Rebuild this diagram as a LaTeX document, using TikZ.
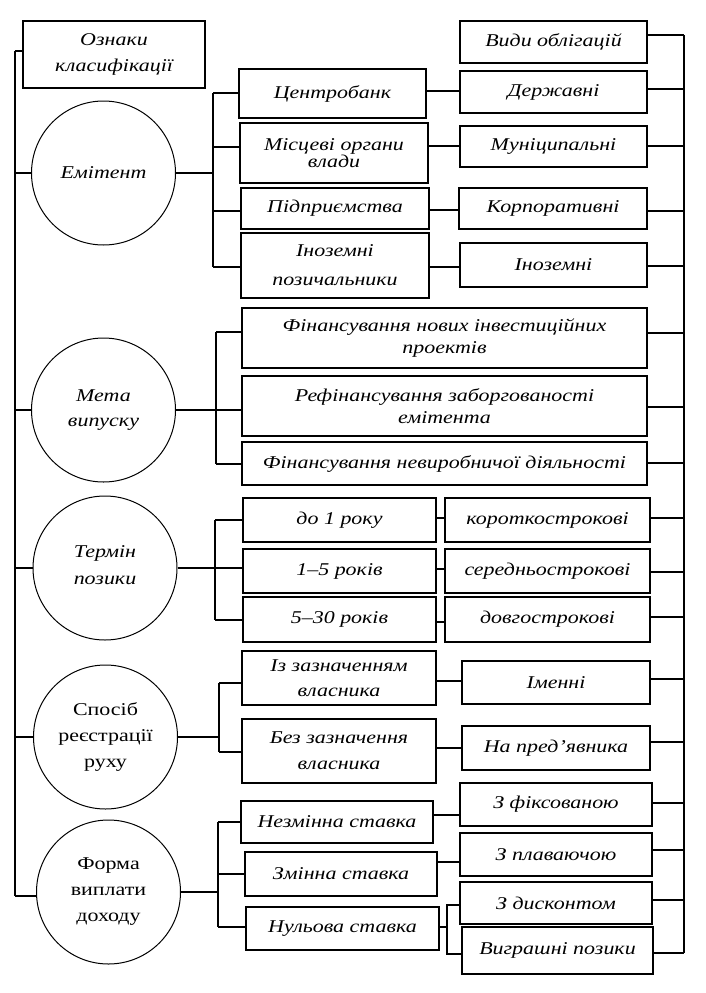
\documentclass[tikz,border=0pt]{standalone}
\usepackage{fontspec}
\setmainfont{Liberation Serif}[FakeStretch=1.22]
\newcommand\fsz{\fontsize{18}{26}\selectfont}
\newcommand\bx[6]{\node[bxs, minimum width={(#4)-(#2)}, minimum height={(#5)-(#3)}] (#1) at ({((#2)+(#4))/2},{-((#3)+(#5))/2}) {#6};}
\begin{document}
\begin{tikzpicture}[x=1pt,y=1pt,
  bxs/.style={draw, line width=1.3pt, inner sep=0pt, align=center, font=\fsz\itshape},
  crc/.style={draw, circle, line width=1pt, inner sep=0pt, minimum size=144pt, align=center, font=\fsz},
  ln/.style={line width=1.1pt}]
\useasboundingbox (0,0) rectangle (705,-993);
% headers
\bx{oz}{23}{21}{205}{88}{Ознаки\\класифікації}
\bx{vo}{460}{21}{647}{63}{Види облігацій}
% circles
\node[crc] (em) at (103.5,-173) {\itshape Емітент};
\node[crc] (mt) at (103.5,-410) {\itshape Мета\\[-1pt]\itshape випуску};
\node[crc] (tp) at (105,-568) {\raisebox{6pt}{\itshape Термін}\\[1pt]\raisebox{6pt}{\itshape позики}};
\node[crc] (sp) at (105.5,-737) {Спосіб\\реєстрації\\руху};
\node[crc] (fm) at (108.5,-892) {Форма\\виплати\\доходу};
% Emitent group
\bx{cb}{239}{69}{426}{118}{Центробанк}
\bx{mo}{240}{123}{428}{183}{Місцеві органи\\[-9pt]влади}
\bx{pd}{241}{188}{429}{229}{Підприємства}
\bx{iz}{241}{233}{429}{298}{Іноземні\\[3pt]позичальники}
\bx{dr}{460}{71}{647}{113}{Державні}
\bx{mu}{460}{126}{647}{167}{Муніципальні}
\bx{kp}{459}{188}{647}{229}{Корпоративні}
\bx{in}{460}{243}{647}{287}{Іноземні}
% Meta group
\bx{fa}{242}{308}{647}{368}{Фінансування нових інвестиційних\\[-4pt]проектів}
\bx{fb}{242}{376}{647}{436}{Рефінансування заборгованості\\[-4pt]емітента}
\bx{fc}{242}{442}{647}{485}{Фінансування невиробничої діяльності}
% Termin group
\bx{ta}{243}{498}{436}{542}{до 1 року}
\bx{tb}{243}{549}{436}{593}{1–5 років}
\bx{tc}{243}{597}{436}{642}{5–30 років}
\bx{ca}{445}{498}{650}{542}{короткострокові}
\bx{cc}{445}{549}{650}{593}{середньострокові}
\bx{cd}{445}{597}{650}{642}{довгострокові}
% Sposib group
\bx{sa}{242}{651}{436}{705}{Із зазначенням\\[-1pt]власника}
\bx{sb}{242}{719}{436}{783}{Без зазначення\\власника}
\bx{ra}{462}{661}{650}{704}{Іменні}
\bx{rb}{462}{726}{650}{770}{На пред’явника}
% Forma group
\bx{na}{241}{801}{433}{843}{Незмінна ставка}
\bx{nb}{245}{852}{437}{896}{Змінна ставка}
\bx{nc}{246}{907}{439}{950}{Нульова ставка}
\bx{za}{460}{783}{652}{826}{З фіксованою}
\bx{zb}{460}{833}{652}{876}{З плаваючою}
\bx{zc}{460}{882}{652}{924}{З дисконтом}
\bx{zd}{462}{927}{653}{974}{Виграшні позики}
% left bus
\coordinate (lbt) at (15,-51);
\coordinate (lbb) at (15,-896);
\draw[ln] (lbt) -- (lbb);
\draw[ln] (lbt) -- (oz.west |- lbt);
\draw[ln] (lbt |- em) -- (em.west);
\draw[ln] (lbt |- mt) -- (mt.west);
\draw[ln] (lbt |- tp) -- (tp.west);
\draw[ln] (lbt |- sp) -- (sp.west);
\draw[ln] (lbb) -- (fm.west |- lbb);
% right bus
\coordinate (rbt) at (684,-35);
\coordinate (rbb) at (684,-953);
\draw[ln] (rbt) -- (rbb);
\draw[ln] (vo.east |- rbt) -- (rbt);
\draw[ln] (dr.east |- 0,-89) -- (rbt |- 0,-89);
\draw[ln] (mu.east |- 0,-146) -- (rbt |- 0,-146);
\draw[ln] (kp.east |- 0,-211) -- (rbt |- 0,-211);
\draw[ln] (in.east |- 0,-266) -- (rbt |- 0,-266);
\draw[ln] (fa.east |- 0,-333) -- (rbt |- 0,-333);
\draw[ln] (fb.east |- 0,-407) -- (rbt |- 0,-407);
\draw[ln] (fc.east |- 0,-463) -- (rbt |- 0,-463);
\draw[ln] (ca.east |- 0,-518) -- (rbt |- 0,-518);
\draw[ln] (cc.east |- 0,-572) -- (rbt |- 0,-572);
\draw[ln] (cd.east |- 0,-617) -- (rbt |- 0,-617);
\draw[ln] (ra.east |- 0,-679) -- (rbt |- 0,-679);
\draw[ln] (rb.east |- 0,-742) -- (rbt |- 0,-742);
\draw[ln] (za.east |- 0,-803) -- (rbt |- 0,-803);
\draw[ln] (zb.east |- 0,-850) -- (rbt |- 0,-850);
\draw[ln] (zc.east |- 0,-900) -- (rbt |- 0,-900);
\draw[ln] (zd.east |- rbb) -- (rbb);
% Emitent bus
\coordinate (eat) at (213,-93);
\coordinate (eab) at (213,-267);
\draw[ln] (eat) -- (eab);
\draw[ln] (em.east) -- (eat |- em);
\draw[ln] (eat) -- (cb.west |- eat);
\draw[ln] (eat |- 0,-147) -- (mo.west |- 0,-147);
\draw[ln] (eat |- 0,-211) -- (pd.west |- 0,-211);
\draw[ln] (eab) -- (iz.west |- eab);
\draw[ln] (cb.east |- 0,-91) -- (dr.west |- 0,-91);
\draw[ln] (mo.east |- 0,-146) -- (mu.west |- 0,-146);
\draw[ln] (pd.east |- 0,-210) -- (kp.west |- 0,-210);
\draw[ln] (iz.east |- 0,-267) -- (in.west |- 0,-267);
% Meta bus
\coordinate (mat) at (216,-332);
\coordinate (mab) at (216,-464);
\draw[ln] (mat) -- (mab);
\draw[ln] (mt.east) -- (fb.west |- mt);
\draw[ln] (mat) -- (fa.west |- mat);
\draw[ln] (mab) -- (fc.west |- mab);
% Termin bus
\coordinate (tat) at (215,-520);
\coordinate (tab) at (215,-620);
\draw[ln] (tat) -- (tab);
\draw[ln] (tp.east) -- (tb.west |- tp);
\draw[ln] (tat) -- (ta.west |- tat);
\draw[ln] (tab) -- (tc.west |- tab);
\draw[ln] (ta.east |- 0,-518) -- (ca.west |- 0,-518);
\draw[ln] (tb.east |- 0,-569) -- (cc.west |- 0,-569);
\draw[ln] (tc.east |- 0,-622) -- (cd.west |- 0,-622);
% Sposib bus
\coordinate (sat) at (219,-683);
\coordinate (sab) at (219,-752);
\draw[ln] (sat) -- (sab);
\draw[ln] (sp.east) -- (sat |- sp);
\draw[ln] (sat) -- (sa.west |- sat);
\draw[ln] (sab) -- (sb.west |- sab);
\draw[ln] (sa.east |- 0,-681) -- (ra.west |- 0,-681);
\draw[ln] (sb.east |- 0,-748) -- (rb.west |- 0,-748);
% Forma bus
\coordinate (fat) at (218,-822);
\coordinate (fab) at (218,-927);
\draw[ln] (fat) -- (fab);
\draw[ln] (fm.east) -- (fat |- fm);
\draw[ln] (fat) -- (na.west |- fat);
\draw[ln] (fat |- 0,-874) -- (nb.west |- 0,-874);
\draw[ln] (fab) -- (nc.west |- fab);
\draw[ln] (na.east |- 0,-815) -- (za.west |- 0,-815);
\draw[ln] (nb.east |- 0,-862) -- (zb.west |- 0,-862);
\coordinate (brt) at (447,-905);
\coordinate (brb) at (447,-954);
\draw[ln] (nc.east |- 0,-927) -- (brt |- 0,-927);
\draw[ln] (zc.west |- brt) -- (brt) -- (brb) -- (zd.west |- brb);
\end{tikzpicture}
\end{document}
